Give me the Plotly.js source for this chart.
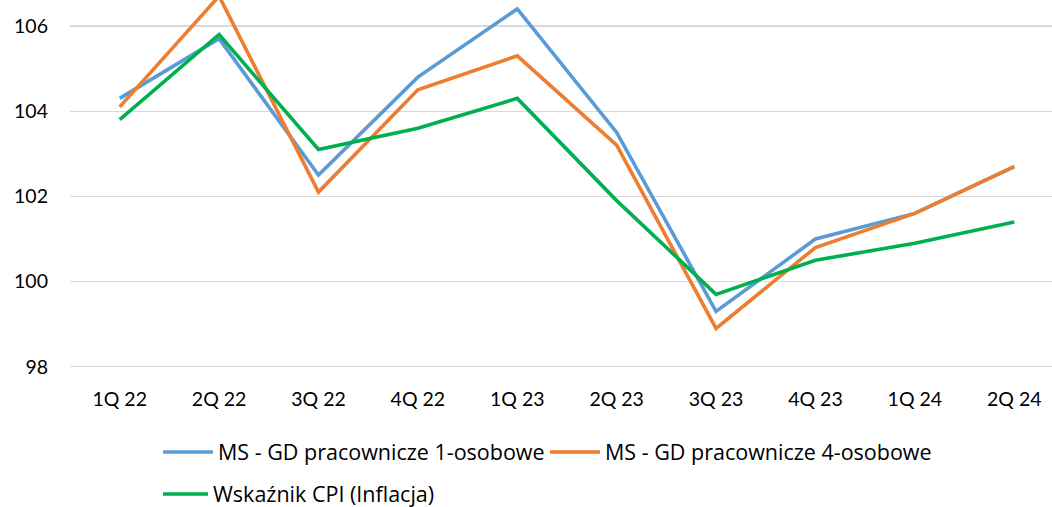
<!DOCTYPE html>
<html>
<head>
<meta charset="utf-8">
<script src="https://cdn.plot.ly/plotly-3.0.1.min.js"></script>
<style>html,body{margin:0;padding:0;background:#fff;}#chart{width:1052px;height:507px;}</style>
</head>
<body>
<div id="chart"></div>
<script>
const categories = ["1Q 22","2Q 22","3Q 22","4Q 22","1Q 23","2Q 23","3Q 23","4Q 23","1Q 24","2Q 24"];
const seriesNames = ["MS - GD pracownicze 1-osobowe","MS - GD pracownicze 4-osobowe","Wskaźnik CPI (Inflacja)"];
const ms1 = [104.3,105.7,102.5,104.8,106.4,103.5,99.3,101.0,101.6,102.7];
const ms4 = [104.1,106.7,102.1,104.5,105.3,103.2,98.9,100.8,101.6,102.7];
const cpi = [103.8,105.8,103.1,103.6,104.3,101.9,99.7,100.5,100.9,101.4];
const yTicks = [98,100,102,104,106];

const colors = ["#5B9BD5","#ED7D31","#00B050"];
const tickFont = {family:"Lato, 'Open Sans', sans-serif", size:19.5, color:"#000"};
const legFont = {family:"'Open Sans', Lato, sans-serif", size:21.5, color:"#000"};

const traces = [ms1, ms4, cpi].map((vals,i)=>({
  type:"scatter", mode:"lines", x:categories, y:vals, name:seriesNames[i],
  line:{color:colors[i], width:3.6},
  legend: i<2 ? "legend" : "legend2",
  hoverinfo:"skip"
}));

const layout = {
  width:1052, height:507,
  margin:{l:70, r:0, t:0, b:136},
  paper_bgcolor:"#fff", plot_bgcolor:"#fff",
  font:tickFont,
  showlegend:true,
  xaxis:{type:"category", range:[-0.5, 9.38], showgrid:false, zeroline:false, showline:false,
         ticks:"", ticklabelstandoff:14, tickfont:tickFont, fixedrange:true},
  yaxis:{range:[97.9, 106.61], tickvals:yTicks, showgrid:true, gridcolor:"#D9D9D9", gridwidth:1.3,
         zeroline:false, showline:false, ticks:"", ticklabelstandoff:21, tickfont:tickFont, fixedrange:true},
  legend:{orientation:"h", xref:"container", yref:"container", x:158/1052, y:1-452/507,
          xanchor:"left", yanchor:"middle", font:legFont, itemwidth:50, entrywidth:322, bgcolor:"rgba(0,0,0,0)"},
  legend2:{orientation:"h", xref:"container", yref:"container", x:158/1052, y:1-494/507,
          xanchor:"left", yanchor:"middle", font:legFont, itemwidth:45, bgcolor:"rgba(0,0,0,0)"}
};

Plotly.newPlot("chart", traces, layout, {displayModeBar:false, staticPlot:true});
</script>
</body>
</html>
